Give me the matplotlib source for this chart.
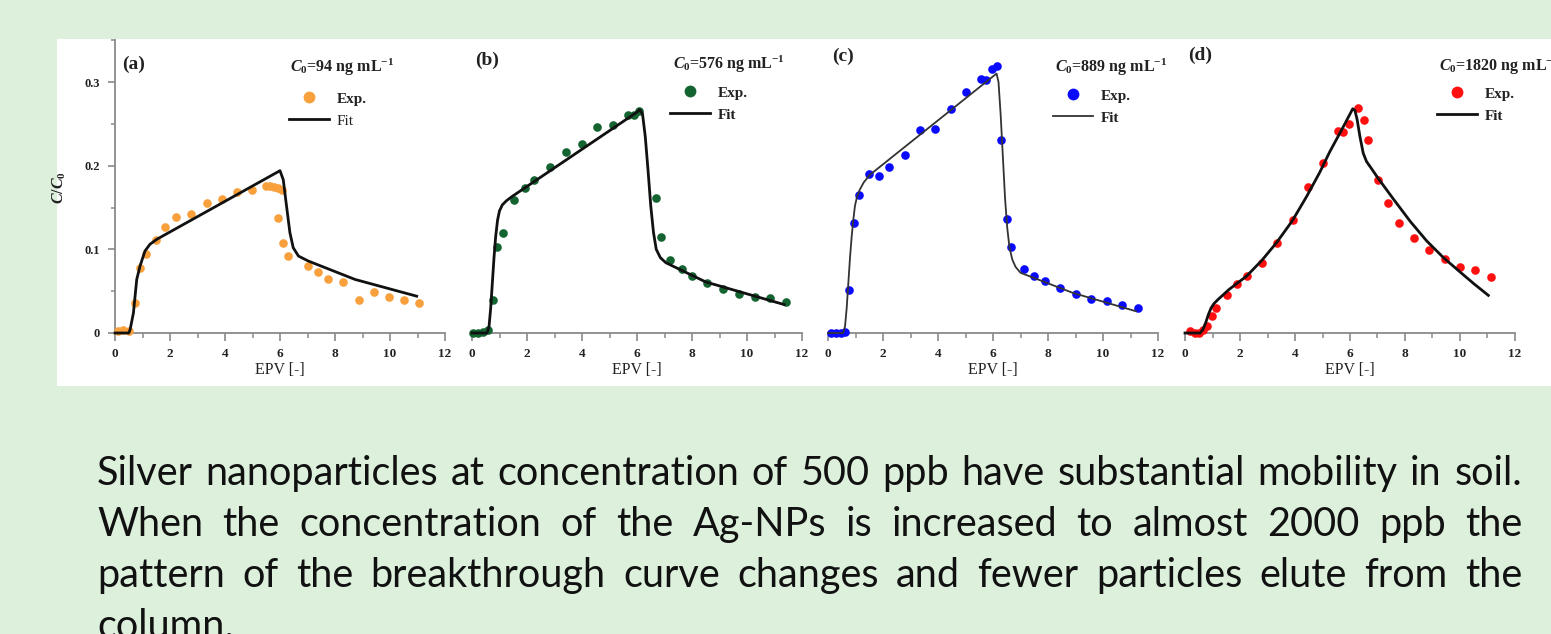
import matplotlib
matplotlib.use("Agg")
import matplotlib.pyplot as plt
from matplotlib.lines import Line2D
from matplotlib.patches import Rectangle
from matplotlib.ticker import MultipleLocator, FuncFormatter

W, H = 1551, 634

# ---------------------------------------------------------------- data
# panel (a)  C0 = 94 ng/mL
exp_a_x = [0.1, 0.3, 0.5, 0.73, 0.91, 1.12, 1.49, 1.82, 2.21, 2.75, 3.33, 3.88, 4.42,
           4.97, 5.48, 5.64, 5.79, 5.94, 6.06, 5.92, 6.12, 6.28, 7.03, 7.39, 7.76, 8.30,
           8.87, 9.43, 9.98, 10.5, 11.07]
exp_a_y = [0.002, 0.003, 0.002, 0.036, 0.078, 0.094, 0.111, 0.127, 0.139, 0.142, 0.155,
           0.160, 0.169, 0.171, 0.176, 0.176, 0.175, 0.173, 0.171, 0.137, 0.108, 0.092,
           0.080, 0.073, 0.065, 0.061, 0.040, 0.049, 0.043, 0.040, 0.036]
fit_a_x = [0, 0.5, 0.55, 0.67, 0.79, 0.91, 1.09, 1.27, 1.52, 6.0, 6.12, 6.24, 6.36,
           6.48, 6.67, 7.03, 8.73, 10.97]
fit_a_y = [0, 0, 0.004, 0.024, 0.064, 0.080, 0.098, 0.106, 0.112, 0.194, 0.183, 0.151,
           0.120, 0.102, 0.092, 0.086, 0.064, 0.044]

# panel (b)  C0 = 576 ng/mL
exp_b_x = [0.05, 0.23, 0.41, 0.59, 0.75, 0.92, 1.14, 1.53, 1.91, 2.27, 2.84, 3.41, 3.99,
           4.56, 5.11, 5.69, 5.90, 6.08, 6.69, 6.87, 7.21, 7.63, 8.0, 8.54, 9.13, 9.72,
           10.28, 10.85, 11.43]
exp_b_y = [0.0, 0.0, 0.001, 0.003, 0.039, 0.103, 0.120, 0.159, 0.173, 0.183, 0.199,
           0.216, 0.226, 0.246, 0.249, 0.260, 0.260, 0.265, 0.161, 0.115, 0.087, 0.076,
           0.068, 0.060, 0.053, 0.047, 0.043, 0.042, 0.037]
fit_b_x = [0, 0.55, 0.62, 0.68, 0.74, 0.8, 0.86, 0.93, 1.0, 1.1, 1.25, 1.45, 6.0, 6.1,
           6.2, 6.3, 6.4, 6.5, 6.6, 6.7, 6.85, 7.05, 8.5, 11.35]
fit_b_y = [0, 0, 0.008, 0.03, 0.06, 0.09, 0.115, 0.135, 0.146, 0.153, 0.158, 0.163,
           0.264, 0.267, 0.262, 0.235, 0.195, 0.152, 0.12, 0.10, 0.09, 0.084, 0.061,
           0.034]

# panel (c)  C0 = 889 ng/mL
exp_c_x = [0.12, 0.30, 0.48, 0.63, 0.76, 0.93, 1.13, 1.48, 1.85, 2.22, 2.79, 3.33, 3.88,
           4.46, 5.03, 5.58, 5.76, 5.96, 6.15, 6.30, 6.51, 6.67, 7.12, 7.49, 7.88, 8.45,
           9.01, 9.58, 10.15, 10.70, 11.27]
exp_c_y = [0.0, 0.0, 0.0, 0.001, 0.051, 0.132, 0.165, 0.190, 0.188, 0.198, 0.213, 0.243,
           0.244, 0.268, 0.288, 0.304, 0.302, 0.316, 0.319, 0.231, 0.136, 0.103, 0.076,
           0.068, 0.062, 0.054, 0.047, 0.041, 0.038, 0.034, 0.030]
fit_c_x = [0, 0.55, 0.62, 0.68, 0.74, 0.8, 0.86, 0.92, 0.98, 1.05, 1.15, 1.3, 1.52, 6.05,
           6.13, 6.2, 6.28, 6.36, 6.44, 6.52, 6.6, 6.7, 6.82, 7.0, 8.9, 11.2]
fit_c_y = [0, 0, 0.008, 0.03, 0.06, 0.09, 0.115, 0.135, 0.152, 0.162, 0.171, 0.18, 0.189,
           0.308, 0.310, 0.300, 0.260, 0.210, 0.160, 0.125, 0.102, 0.088, 0.079, 0.072,
           0.048, 0.026]

# panel (d)  C0 = 1820 ng/mL
exp_d_x = [0.18, 0.36, 0.52, 0.67, 0.79, 0.97, 1.13, 1.52, 1.90, 2.27, 2.79, 3.33, 3.92,
           4.48, 5.03, 5.55, 5.76, 5.96, 6.30, 6.51, 6.67, 7.03, 7.39, 7.78, 8.33, 8.88,
           9.45, 10.0, 10.55, 11.11]
exp_d_y = [0.002, 0.0, 0.0, 0.003, 0.008, 0.020, 0.030, 0.045, 0.058, 0.068, 0.084,
           0.108, 0.135, 0.174, 0.203, 0.242, 0.240, 0.250, 0.269, 0.254, 0.231, 0.183,
           0.155, 0.131, 0.114, 0.099, 0.089, 0.079, 0.075, 0.067]
fit_d_x = [0, 0.55, 0.65, 0.75, 0.85, 0.95, 1.05, 1.2, 1.6, 2.24, 2.8, 3.33, 3.9, 4.42,
           4.9, 5.27, 5.7, 6.1, 6.18, 6.26, 6.36, 6.48, 6.6, 6.75, 7.0, 7.58, 8.2, 8.79,
           9.4, 10.0, 10.5, 11.03]
fit_d_y = [0, 0, 0.004, 0.012, 0.022, 0.03, 0.035, 0.04, 0.052, 0.068, 0.087, 0.108,
           0.134, 0.163, 0.192, 0.217, 0.243, 0.268, 0.266, 0.255, 0.235, 0.215, 0.205,
           0.198, 0.186, 0.160, 0.133, 0.110, 0.090, 0.073, 0.059, 0.045]

panel_tags = ["(a)", "(b)", "(c)", "(d)"]
conc_labels = ["94", "576", "889", "1820"]

body_lines = [
    "Silver nanoparticles at concentration of 500 ppb have substantial mobility in soil.",
    "When the concentration of the Ag-NPs is increased to almost 2000 ppb the",
    "pattern of the breakthrough curve changes and fewer particles elute from the",
    "column.",
]

# ---------------------------------------------------------------- style
plt.rcParams["font.family"] = "Liberation Serif"
plt.rcParams["font.weight"] = "bold"
plt.rcParams["mathtext.fontset"] = "custom"
plt.rcParams["mathtext.rm"] = "Liberation Serif:bold"
plt.rcParams["mathtext.bf"] = "Liberation Serif:bold"
plt.rcParams["mathtext.it"] = "Liberation Serif:italic:bold"

BG = "#dcf0dc"
SPINE = "#8a8a8a"

panels = [
    dict(ex=exp_a_x, ey=exp_a_y, fx=fit_a_x, fy=fit_a_y, color="#f8a03c",
         fit_color="#111111", fit_lw=2.0, left=115, tag=(122, 64), conc=(290, 67),
         leg=(289, 92)),
    dict(ex=exp_b_x, ey=exp_b_y, fx=fit_b_x, fy=fit_b_y, color="#146432",
         fit_color="#111111", fit_lw=2.0, left=472, tag=(475, 60), conc=(673, 64),
         leg=(670, 86)),
    dict(ex=exp_c_x, ey=exp_c_y, fx=fit_c_x, fy=fit_c_y, color="#0a0aff",
         fit_color="#333333", fit_lw=1.3, left=828, tag=(832, 56), conc=(1055, 67),
         leg=(1053, 89)),
    dict(ex=exp_d_x, ey=exp_d_y, fx=fit_d_x, fy=fit_d_y, color="#ff1010",
         fit_color="#111111", fit_lw=2.0, left=1185, tag=(1188, 55), conc=(1439, 66),
         leg=(1437, 87)),
]


def fx(px):
    return px / W


def fy(py):
    return 1 - py / H


fig = plt.figure(figsize=(W / 100, H / 100), dpi=100, facecolor=BG)
fig.patches.append(Rectangle((fx(57), fy(386)), fx(W - 57), (386 - 39) / H,
                             transform=fig.transFigure, facecolor="white",
                             edgecolor="none", zorder=-10))

for i, p in enumerate(panels):
    ax = fig.add_axes([fx(p["left"]), fy(333), 330 / W, 293 / H])
    ax.set_facecolor("none")
    ax.plot(p["ex"], p["ey"], "o", ms=6.2, color=p["color"], mec="none",
            clip_on=False, zorder=3)
    ax.plot(p["fx"], p["fy"], "-", lw=p["fit_lw"], color=p["fit_color"],
            clip_on=False, zorder=4)
    ax.set_xlim(0, 12)
    ax.set_ylim(0, 0.3502)
    for s in ["top", "right"]:
        ax.spines[s].set_visible(False)
    ax.spines["bottom"].set_color(SPINE)
    ax.spines["bottom"].set_linewidth(1.3)
    ax.xaxis.set_major_locator(MultipleLocator(2))
    ax.xaxis.set_minor_locator(MultipleLocator(1))
    ax.tick_params(axis="x", which="major", direction="out", length=6, width=1.2,
                   color=SPINE, labelsize=9.5, pad=5, labelcolor="#222222")
    ax.tick_params(axis="x", which="minor", direction="out", length=3.5, width=1.1,
                   color=SPINE)
    ax.set_xlabel("EPV [-]", fontsize=11.5, labelpad=1, color="#222222")
    if i == 0:
        ax.spines["left"].set_color(SPINE)
        ax.spines["left"].set_linewidth(1.3)
        ax.yaxis.set_major_locator(MultipleLocator(0.1))
        ax.yaxis.set_minor_locator(MultipleLocator(0.05))
        ax.yaxis.set_major_formatter(
            FuncFormatter(lambda v, _: "0" if abs(v) < 1e-9 else f"{v:.1f}"))
        ax.tick_params(axis="y", which="major", direction="out", length=5, width=1.2,
                       color=SPINE, labelsize=9, pad=6, labelcolor="#222222")
        ax.tick_params(axis="y", which="minor", direction="out", length=3, width=1.1,
                       color=SPINE)
        ax.set_ylabel(r"$C/C_\mathit{0}$", fontsize=11.5, color="#222222")
        ax.yaxis.set_label_coords((68 - 115) / 330, (333 - 188) / 293)
    else:
        ax.spines["left"].set_visible(False)
        ax.set_yticks([])

    fig.text(fx(p["tag"][0]), fy(p["tag"][1]), panel_tags[i], fontsize=14,
             ha="left", va="center", color="#222222")
    fig.text(fx(p["conc"][0]), fy(p["conc"][1]),
             r"$C_\mathit{0}$=" + conc_labels[i] + r" ng mL$^{\mathbf{-1}}$",
             fontsize=11.5, ha="left", va="center", color="#222222")

    handles = [Line2D([], [], marker="o", ls="none", ms=8.5, color=p["color"], mec="none"),
               Line2D([], [], lw=p["fit_lw"], color=p["fit_color"])]
    leg = fig.legend(handles, ["Exp.", "Fit"], loc="upper left",
                     bbox_to_anchor=(fx(p["leg"][0]), fy(p["leg"][1])),
                     bbox_transform=fig.transFigure, frameon=False, fontsize=11,
                     handlelength=2.6, handletextpad=0.5, labelspacing=0.55,
                     borderpad=0, borderaxespad=0)
    for t in leg.get_texts():
        t.set_color("#222222")
    if i == 0:
        leg.get_texts()[1].set_fontweight("normal")

# ---------------------------------------------------------------- body text
renderer = fig.canvas.get_renderer()
x0, x1 = 97, 1522
baselines = [485, 536, 587, 638]
for k, line in enumerate(body_lines):
    words = line.split()
    texts = [fig.text(0, fy(baselines[k]), w, family="Lato", fontweight="normal",
                      fontsize=28.5, color="#111111", va="baseline", ha="left")
             for w in words]
    widths = [t.get_window_extent(renderer).width for t in texts]
    if k < len(body_lines) - 1 and len(words) > 1:
        gap = (x1 - x0 - sum(widths)) / (len(words) - 1)
    else:
        gap = 10
    x = x0
    for t, w in zip(texts, widths):
        t.set_x(fx(x))
        x += w + gap

fig.savefig("out.png", dpi=100, facecolor=BG)
